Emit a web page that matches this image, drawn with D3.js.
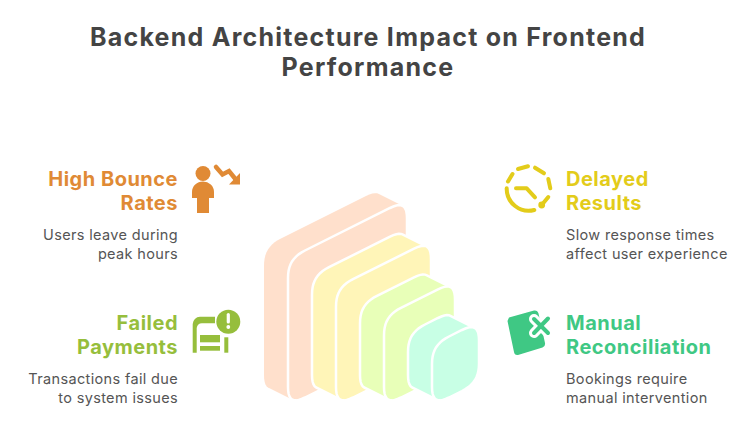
<!DOCTYPE html>
<html>
<head>
<meta charset="utf-8">
<style>
  html, body { margin: 0; background: #fff; }
  text { font-family: Inter, "Noto Sans", sans-serif; }
</style>
<script src="https://d3js.org/d3.v7.min.js"></script>
</head>
<body>
<div id="chart"></div>
<script>
// chart content
const titleLines = ["Backend Architecture Impact on Frontend", "Performance"];
const headings = [["High Bounce", "Rates"], ["Failed", "Payments"], ["Delayed", "Results"], ["Manual", "Reconciliation"]];
const notes = [
  ["Users leave during", "peak hours"],
  ["Transactions fail due", "to system issues"],
  ["Slow response times", "affect user experience"],
  ["Bookings require", "manual intervention"]
];
const accents = ["#e08a35", "#96be3c", "#e3cc1a", "#3fc884"];

// the stepped blocks, biggest first
const layerLevels = [4, 3, 2, 1];
const layerFills = ["#ffe0cc", "#fff5b8", "#e8ffb8", "#c8ffe5"];

const width = 756, height = 435;

const svg = d3.select("#chart")
    .append("svg")
    .attr("width", width)
    .attr("height", height)
    .style("display", "block");

svg.selectAll(".title")
    .data(titleLines)
  .enter().append("text")
    .attr("class", "title")
    .attr("x", 368)
    .attr("y", (d, i) => 46 + i * 30)
    .attr("text-anchor", "middle")
    .attr("font-size", 25)
    .attr("letter-spacing", 1.25)
    .attr("font-weight", 700)
    .attr("fill", "#444")
    .text(d => d);

// blocks: level -> position and size
const leftX = d3.scaleLinear().domain([4, 1]).range([288, 432]);
const slabW = d3.scaleLinear().domain([1, 4]).range([47, 119]);
const slabH = d3.scaleLinear().domain([1, 4]).range([61, 147]);
const baseY = 406, depthX = 24, depthY = 12;
const corner = 19, k = 0.7;

// outline of one isometric face, the top and bottom edges climb to the right
function slabPoints(x, y, w, h) {
  const pts = [[x, y - h], [x + w, y - h - w / 2], [x + w, y - w / 2], [x, y]];
  const along = (a, b, t) => {
    const len = Math.hypot(b[0] - a[0], b[1] - a[1]);
    return [a[0] + (b[0] - a[0]) * t / len, a[1] + (b[1] - a[1]) * t / len];
  };
  const out = [];
  pts.forEach((pt, i) => {
    const s = along(pt, pts[(i + 3) % 4], corner), e = along(pt, pts[(i + 1) % 4], corner);
    const c1 = along(pt, pts[(i + 3) % 4], corner * (1 - k)), c2 = along(pt, pts[(i + 1) % 4], corner * (1 - k));
    d3.range(0, 1.001, 0.1).forEach(t => {
      const u = 1 - t;
      out.push([
        u * u * u * s[0] + 3 * u * u * t * c1[0] + 3 * u * t * t * c2[0] + t * t * t * e[0],
        u * u * u * s[1] + 3 * u * u * t * c1[1] + 3 * u * t * t * c2[1] + t * t * t * e[1]
      ]);
    });
  });
  return out;
}

const outline = pts => d3.line().curve(d3.curveLinearClosed)(pts);

const layer = svg.selectAll(".layer")
    .data(layerLevels)
  .enter().append("g")
    .attr("class", "layer");

// the whole block: hull of the back face and the front face
layer.append("path")
    .attr("d", d => outline(d3.polygonHull(
      slabPoints(leftX(d) - depthX, baseY - depthY, slabW(d), slabH(d))
        .concat(slabPoints(leftX(d), baseY, slabW(d), slabH(d))))))
    .attr("fill", (d, i) => layerFills[i])
    .attr("stroke", (d, i) => i ? "#fff" : "none")
    .attr("stroke-width", 2.5);

layer.append("path")
    .attr("d", d => outline(slabPoints(leftX(d), baseY, slabW(d), slabH(d))))
    .attr("fill", (d, i) => layerFills[i])
    .attr("stroke", "#fff")
    .attr("stroke-width", 2.5);

// text blocks
const anchors = [
  {x: 178, y: 186, a: "end"}, {x: 178, y: 330, a: "end"},
  {x: 566, y: 186, a: "start"}, {x: 566, y: 330, a: "start"}
];

anchors.forEach((t, i) => {
  headings[i].forEach((line, j) => {
    svg.append("text")
        .attr("x", t.x).attr("y", t.y + j * 24)
        .attr("text-anchor", t.a)
        .attr("font-size", 20).attr("font-weight", 700)
        .attr("letter-spacing", 0.5)
        .attr("fill", accents[i])
        .text(line);
  });
  notes[i].forEach((line, j) => {
    svg.append("text")
        .attr("x", t.x).attr("y", t.y + 54 + j * 18.5)
        .attr("text-anchor", t.a)
        .attr("font-size", 14.5)
        .attr("letter-spacing", 0.35)
        .attr("fill", "#555")
        .text(line);
  });
});

// icons
const person = svg.append("g").attr("fill", accents[0]);
person.append("circle").attr("cx", 203).attr("cy", 173.5).attr("r", 7.5);
person.append("path").attr("d", "M192 198V192A11 10.5 0 0 1 214 192V198H209V213H197V198Z");
person.append("path")
    .attr("d", "M216 167L222.5 174.5L229 171L235 178.5")
    .attr("fill", "none").attr("stroke", accents[0]).attr("stroke-width", 4.5).attr("stroke-linecap", "round");
person.append("path").attr("d", "M240 173V184.5H229Z");

const flag = svg.append("g").attr("fill", accents[1]);
flag.append("path").attr("d", "M192.7 352.7V324A7.5 7.5 0 0 1 200 316.7H215V323.3H202A5.5 5.5 0 0 0 196.7 328V352.7Z");
flag.append("rect").attr("x", 224.3).attr("y", 337.3).attr("width", 4).attr("height", 15.4);
flag.append("rect").attr("x", 200).attr("y", 335).attr("width", 20).attr("height", 7.3);
flag.append("rect").attr("x", 200).attr("y", 346).attr("width", 20).attr("height", 4.7);
flag.append("circle").attr("cx", 228.3).attr("cy", 321.7).attr("r", 12);
flag.append("path").attr("d", "M228.3 314.5V322").attr("stroke", "#fff").attr("stroke-width", 3.2).attr("stroke-linecap", "round");
flag.append("circle").attr("cx", 228.3).attr("cy", 327).attr("r", 1.9).attr("fill", "#fff");

const clock = svg.append("g").attr("fill", "none").attr("stroke", accents[2])
    .attr("stroke-width", 4).attr("stroke-linecap", "round").attr("stroke-linejoin", "round");
[
  "M506.7 188.3A22 22 0 0 0 534.3 210",
  "M508 181.5L512.5 174",
  "M518 169L528 166.3",
  "M535 167.7L544 173.3",
  "M548.3 179L550.3 188.3",
  "M548.3 197L541.7 205",
  "M516 188.3H526.7L535 197.3"
].forEach(d => clock.append("path").attr("d", d));
svg.append("circle").attr("cx", 541.7).attr("cy", 205).attr("r", 3.4).attr("fill", accents[2]);

const sheet = svg.append("g");
sheet.append("path")
    .attr("d", "M507.5 321L509 317.5L534 310.5Q537.5 310 538.5 313.5L545 343Q545.5 346.5 542.5 347.5L518 355Q514.5 355.5 514 352Z")
    .attr("fill", accents[3]);
const cross = "M534 319L548 333M548 318.5L534 333";
sheet.append("path").attr("d", cross).attr("fill", "none").attr("stroke", "#fff").attr("stroke-width", 10).attr("stroke-linecap", "round");
sheet.append("path").attr("d", cross).attr("fill", "none").attr("stroke", accents[3]).attr("stroke-width", 4).attr("stroke-linecap", "round");
</script>
</body>
</html>
